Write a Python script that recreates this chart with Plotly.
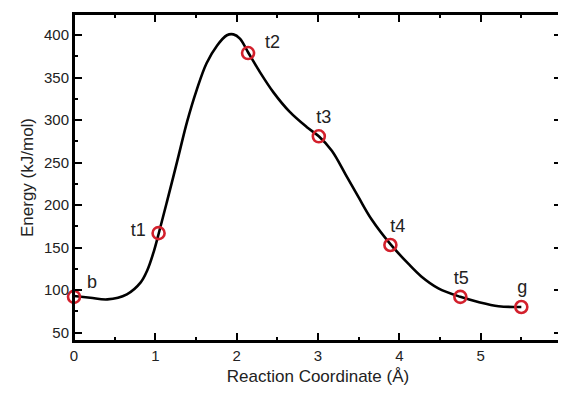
import plotly.graph_objects as go

# Energy profile curve
curve_x = [0.0, 0.20, 0.41, 0.65, 0.82, 0.90, 0.98, 1.04, 1.14, 1.27, 1.39, 1.51, 1.63, 1.76, 1.88,
           1.96, 2.04, 2.14, 2.29, 2.45, 2.65, 2.86, 3.01, 3.17, 3.34, 3.50, 3.66, 3.89, 4.11,
           4.27, 4.48, 4.75, 4.97, 5.22, 5.5]
curve_y = [93, 91, 89, 95, 109, 123, 145, 166, 203, 252, 298, 336, 367, 388, 400,
           401, 396, 380, 356, 333, 310, 292, 281, 264, 236, 209, 183, 154, 131,
           116, 102, 92, 86, 81, 80]

# Marked states
state_names = ["b", "t1", "t2", "t3", "t4", "t5", "g"]
state_x = [0.0, 1.04, 2.14, 3.01, 3.89, 4.75, 5.5]
state_y = [92, 167, 379, 281, 153, 92, 80]

# Label anchor positions
label_x = [0.22, 0.79, 2.44, 3.07, 3.98, 4.76, 5.51]
label_y = [108, 169, 390, 302, 174, 113, 102]

x_ticks = [0, 1, 2, 3, 4, 5, 6]
y_ticks = [50, 100, 150, 200, 250, 300, 350, 400]

FONT = "Liberation Sans, Arial, Helvetica, sans-serif"
TXT = "#222222"

fig = go.Figure()
fig.add_trace(go.Scatter(x=curve_x, y=curve_y, mode="lines",
                         line=dict(color="black", width=2.6, shape="spline", smoothing=1.0),
                         hoverinfo="skip", showlegend=False))
fig.add_trace(go.Scatter(x=state_x, y=state_y, mode="markers",
                         marker=dict(symbol="circle-open", size=12, color="#d3202c",
                                     line=dict(width=2.6, color="#d3202c")),
                         cliponaxis=False, showlegend=False))
fig.add_trace(go.Scatter(x=label_x, y=label_y, mode="text", text=state_names,
                         textfont=dict(family=FONT, size=18, color=TXT),
                         cliponaxis=False, showlegend=False))

axis_common = dict(showline=True, linecolor="black", linewidth=2, mirror="allticks",
                   ticks="inside", tickcolor="black", tickwidth=2, ticklen=8,
                   showgrid=False, zeroline=False,
                   tickfont=dict(family=FONT, size=15, color=TXT))

fig.update_xaxes(range=[0, 6], tickvals=x_ticks,
                 minor=dict(ticks="inside", dtick=0.5, ticklen=4, tickwidth=2, tickcolor="black"),
                 title=dict(text="Reaction Coordinate (Å)", font=dict(family=FONT, size=17, color=TXT),
                            standoff=8),
                 **axis_common)
fig.update_yaxes(range=[40, 425], tickvals=y_ticks,
                 minor=dict(ticks="inside", dtick=25, ticklen=4, tickwidth=2, tickcolor="black"),
                 title=dict(text="Energy (kJ/mol)", font=dict(family=FONT, size=17, color=TXT),
                            standoff=6),
                 **axis_common)

# frame around the plotting area
fig.add_shape(type="rect", xref="paper", yref="paper", x0=0, y0=0, x1=1, y1=1,
              line=dict(color="black", width=2), fillcolor="rgba(0,0,0,0)", layer="above")

# page has an 8px body margin; figure sized to fit the 566x394 window
fig.update_layout(width=558, height=378, margin=dict(l=66, r=2, t=6, b=37),
                  plot_bgcolor="white", paper_bgcolor="white")

fig.write_html("out.html")
